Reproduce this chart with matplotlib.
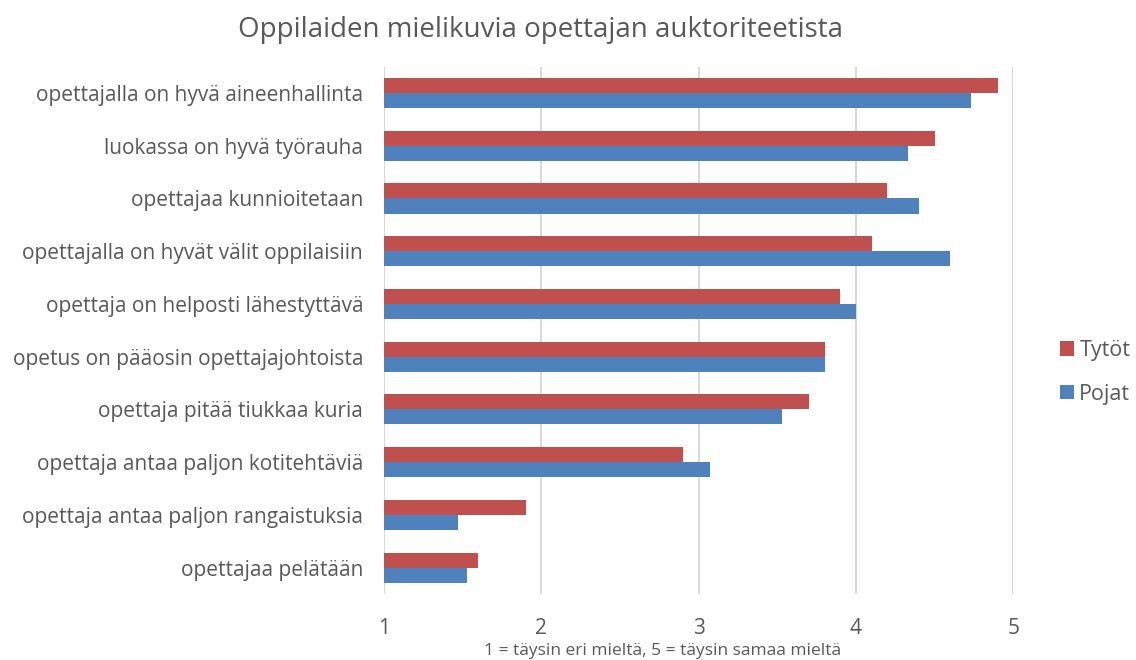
import numpy as np
import matplotlib.pyplot as plt

plt.rcParams['font.family'] = ['Open Sans', 'DejaVu Sans']

categories = ['opettajalla on hyvä aineenhallinta',
              'luokassa on hyvä työrauha',
              'opettajaa kunnioitetaan',
              'opettajalla on hyvät välit oppilaisiin',
              'opettaja on helposti lähestyttävä',
              'opetus on pääosin opettajajohtoista',
              'opettaja pitää tiukkaa kuria',
              'opettaja antaa paljon kotitehtäviä',
              'opettaja antaa paljon rangaistuksia',
              'opettajaa pelätään']
tytot = [4.9, 4.5, 4.2, 4.1, 3.9, 3.8, 3.7, 2.9, 1.9, 1.6]
pojat = [4.73, 4.33, 4.4, 4.6, 4.0, 3.8, 3.53, 3.07, 1.47, 1.53]
xticks = [1, 2, 3, 4, 5]

text_col = '#595959'
fig = plt.figure(figsize=(11.36, 6.6), dpi=100)
ax = fig.add_axes([0.338, 0.1, 0.554, 0.799])

y = np.arange(len(categories))
h = 0.285
ax.barh(y - h / 2, np.array(tytot) - 1, left=1, height=h, color='#C0504D', label='Tytöt', zorder=3)
ax.barh(y + h / 2, np.array(pojat) - 1, left=1, height=h, color='#4F81BD', label='Pojat', zorder=3)

ax.set_xlim(1, 5)
ax.set_ylim(len(categories) - 0.5, -0.5)
ax.set_xticks(xticks)
ax.set_xticklabels([str(t) for t in xticks], fontsize=15, color=text_col)
ax.set_yticks(y)
ax.set_yticklabels(categories, fontsize=15, color=text_col)
ax.tick_params(length=0)
ax.tick_params(axis='y', pad=15)
ax.tick_params(axis='x', pad=17)
ax.grid(axis='x', color='#D9D9D9', linewidth=1.5, zorder=0)
for s in ax.spines.values():
    s.set_visible(False)

ax.set_xlabel('1 = täysin eri mieltä, 5 = täysin samaa mieltä', fontsize=12.5, color=text_col,
              labelpad=3.5, x=0.442)
fig.suptitle('Oppilaiden mielikuvia opettajan auktoriteetista', fontsize=20, color=text_col, x=0.476, y=0.975)

ax.legend(loc='center left', bbox_to_anchor=(1.057, 0.42), frameon=False, fontsize=15.5,
          handlelength=0.65, handleheight=0.65, labelspacing=1.05, handletextpad=0.25,
          labelcolor=text_col, borderpad=0)

fig.savefig('out.png', dpi=100)
